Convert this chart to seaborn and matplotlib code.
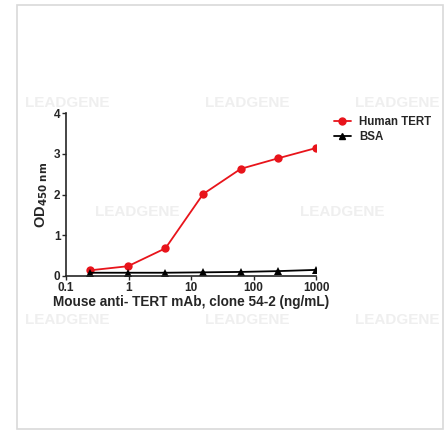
import matplotlib
matplotlib.use("Agg")
import matplotlib.pyplot as plt
import seaborn as sns
import pandas as pd
from matplotlib.patches import Rectangle
from matplotlib.lines import Line2D

conc = [0.244, 0.98, 3.9, 15.6, 62.5, 250, 1000]
human_tert = [0.14, 0.24, 0.68, 2.01, 2.63, 2.89, 3.14]
bsa = [0.08, 0.08, 0.08, 0.09, 0.10, 0.12, 0.15]
series_names = ["Human TERT", "BSA"]
x_ticks = [0.1, 1, 10, 100, 1000]
x_tick_labels = ["0.1", "1", "10", "100", "1000"]
y_ticks = [0, 1, 2, 3, 4]

df = pd.DataFrame({
    "conc": conc * 2,
    "od": human_tert + bsa,
    "series": [series_names[0]] * len(conc) + [series_names[1]] * len(conc),
})

sns.set_style("ticks")
plt.rcParams["font.family"] = ["Liberation Sans", "DejaVu Sans"]

fig = plt.figure(figsize=(4.47, 4.32), dpi=100)
fig.patch.set_facecolor("white")
fig.patches.append(Rectangle((17 / 447, 3 / 432), 426 / 447, 424 / 432,
                             transform=fig.transFigure, fill=False,
                             edgecolor="#d9d9d9", linewidth=1.2))

# faint watermarks
wm = [(25, 103, "left"), (205, 103, "left"), (440, 103, "right"),
      (95, 212, "left"), (300, 212, "left"),
      (25, 320, "left"), (205, 320, "left"), (440, 320, "right")]
for (px, py, ha) in wm:
    fig.text(px / 447, 1 - py / 432, "LEADGENE", color="#efefef",
             fontsize=11, fontweight="bold", va="center", ha=ha, zorder=0)

ax = fig.add_axes([66 / 447, 156 / 432, 250 / 447, 163 / 432])
ax.set_facecolor("none")

sns.lineplot(data=df, x="conc", y="od", hue="series", style="series",
             palette={"Human TERT": "#e8141b", "BSA": "black"},
             markers={"Human TERT": "o", "BSA": "^"},
             dashes=False, markersize=6, linewidth=1.3,
             markeredgewidth=0, ax=ax, legend=False)

ax.set_xscale("log")
ax.set_xlim(0.1, 1000)
ax.set_ylim(0, 4)
ax.set_xticks(x_ticks)
ax.set_xticklabels(x_tick_labels)
ax.minorticks_off()
ax.set_yticks(y_ticks)
ax.tick_params(axis="both", labelsize=8.5, length=3, width=1, pad=1)
for lab in ax.get_xticklabels() + ax.get_yticklabels():
    lab.set_fontweight("bold")
for s in ["top", "right"]:
    ax.spines[s].set_visible(False)
for s in ["left", "bottom"]:
    ax.spines[s].set_linewidth(1.2)

ax.set_xlabel("Mouse anti- TERT mAb, clone 54-2 (ng/mL)", fontsize=9.8,
              fontweight="bold", labelpad=1)
ax.set_ylabel(r"OD$_{\mathbf{450\ nm}}$", fontsize=10.5, fontweight="bold", labelpad=3)

handles = [Line2D([], [], color="#e8141b", marker="o", markersize=5, linewidth=1.3),
           Line2D([], [], color="black", marker="^", markersize=5, linewidth=1.3)]
fig.legend(handles, series_names, loc="upper left",
           bbox_to_anchor=(328 / 447, 1 - 110 / 432), frameon=False,
           prop={"size": 8.3, "weight": "bold"}, handlelength=1.5,
           handletextpad=0.7, labelspacing=0.3, borderpad=0)

fig.savefig("out.png", dpi=100, facecolor="white")
